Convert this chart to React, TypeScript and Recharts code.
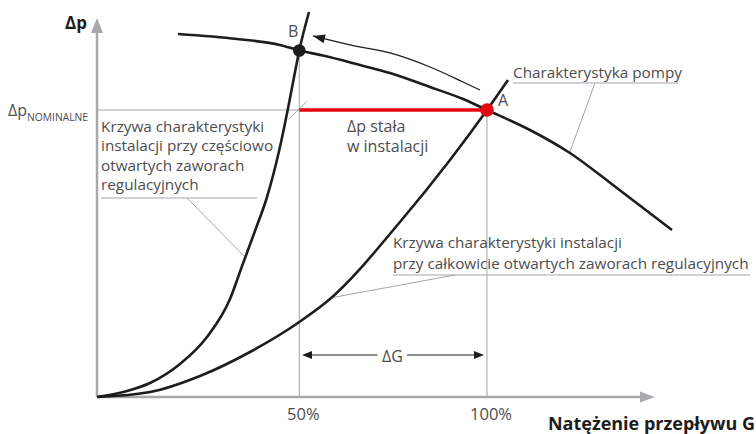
import {
  ComposedChart,
  Line,
  Scatter,
  XAxis,
  YAxis,
  ReferenceLine,
  ReferenceDot,
} from "recharts";

// g = flow G in % of nominal, dp = pressure difference (relative units)
const pumpCurve = [
  { g: 17.69, dp: 93.8 },
  { g: 33.4, dp: 92.51 },
  { g: 44.86, dp: 90.96 },
  { g: 50, dp: 89.54 },
  { g: 56.31, dp: 88.24 },
  { g: 66.17, dp: 85.79 },
  { g: 74.16, dp: 83.72 },
  { g: 84.82, dp: 80.1 },
  { g: 93.61, dp: 77.0 },
  { g: 100, dp: 74.16 },
  { g: 111.45, dp: 68.99 },
  { g: 122.1, dp: 63.05 },
  { g: 133.56, dp: 54.78 },
  { g: 149.28, dp: 43.15 },
];

const partialSystemCurve = [
  { g: -3.89, dp: 0 },
  { g: 4.1, dp: 1.55 },
  { g: 10.23, dp: 3.62 },
  { g: 18.22, dp: 8.53 },
  { g: 25.41, dp: 15.5 },
  { g: 31.54, dp: 25.32 },
  { g: 34.66, dp: 33.59 },
  { g: 38.19, dp: 42.89 },
  { g: 41.32, dp: 51.42 },
  { g: 44.67, dp: 63.82 },
  { g: 46.91, dp: 74.16 },
  { g: 48.45, dp: 81.91 },
  { g: 50, dp: 89.54 },
  { g: 52.58, dp: 99.48 },
];

const fullSystemCurve = [
  { g: -3.89, dp: 0 },
  { g: 10.23, dp: 1.29 },
  { g: 23.55, dp: 5.43 },
  { g: 36.87, dp: 11.63 },
  { g: 50, dp: 19.38 },
  { g: 58.18, dp: 25.32 },
  { g: 76.82, dp: 45.22 },
  { g: 90.14, dp: 61.24 },
  { g: 100, dp: 74.16 },
  { g: 105.59, dp: 81.91 },
];

const pointA = [{ g: 100, dp: 74.16 }];
const pointB = [{ g: 50, dp: 89.54 }];

// arrow showing the shift of the working point from A to B
const shiftArrow = [
  { g: 98.13, dp: 79.33 },
  { g: 93.61, dp: 81.4 },
  { g: 84.82, dp: 85.27 },
  { g: 74.16, dp: 88.89 },
  { g: 63.51, dp: 90.96 },
  { g: 53.65, dp: 93.28 },
];

const flowTicks = [50, 100];
const flowTickLabels = ["50%", "100%"];

const G0 = -3.89; // origin of the axes
const DP_NOMINAL = 74.16;

const INK = "#1d1d1b";
const RED = "#e30613";
const AXIS = "#a7a9ac";
const THIN = "#a3a5a8";
const TEXT = "#4d4d4f";
const FONT = "'Open Sans', sans-serif";

const seg = (
  key: string,
  x1: number,
  y1: number,
  x2: number,
  y2: number,
  stroke = THIN,
  width = 1
) => (
  <ReferenceLine
    key={key}
    segment={[
      { x: x1, y: y1 },
      { x: x2, y: y2 },
    ]}
    stroke={stroke}
    strokeWidth={width}
    ifOverflow="visible"
  />
);

const arrowHead = (
  key: string,
  x: number,
  y: number,
  angle: number,
  len: number,
  half: number,
  fill: string
) => (
  <ReferenceDot
    key={key}
    x={x}
    y={y}
    r={0}
    ifOverflow="visible"
    shape={(p: any) => (
      <polygon
        points={`0,0 ${-len},${-half} ${-len},${half}`}
        transform={`translate(${p.cx},${p.cy}) rotate(${angle})`}
        fill={fill}
      />
    )}
  />
);

type NoteOpts = {
  size?: number;
  bold?: boolean;
  fill?: string;
  anchor?: "start" | "middle" | "end";
  lh?: number;
  dx?: number;
};

const note = (key: string, x: number, y: number, lines: string[], o: NoteOpts = {}) => (
  <ReferenceDot
    key={key}
    x={x}
    y={y}
    r={0}
    ifOverflow="visible"
    shape={(p: any) => (
      <text
        x={p.cx + (o.dx ?? 0)}
        y={p.cy}
        fill={o.fill ?? TEXT}
        fontSize={o.size ?? 15.3}
        fontWeight={o.bold ? 700 : 400}
        fontFamily={FONT}
        textAnchor={o.anchor ?? "start"}
      >
        {lines.map((l, i) => (
          <tspan key={i} x={p.cx + (o.dx ?? 0)} dy={i === 0 ? 0 : o.lh ?? 19.5}>
            {l}
          </tspan>
        ))}
      </text>
    )}
  />
);

const App = () => {
  return (
    <div style={{ width: 756, height: 434 }}>
      <style>{"body{margin:0}"}</style>
      <ComposedChart width={756} height={434} margin={{ top: 0, right: 0, bottom: 0, left: 0 }}>
        <XAxis type="number" dataKey="g" domain={[-29.73, 171.66]} allowDataOverflow hide />
        <YAxis type="number" dataKey="dp" domain={[-9.56, 102.58]} allowDataOverflow hide />

        {/* guide lines */}
        {seg("nom", G0, DP_NOMINAL, pointB[0].g, DP_NOMINAL)}
        {seg("v50", pointB[0].g, 0, pointB[0].g, pointB[0].dp)}
        {seg("v100", pointA[0].g, 0, pointA[0].g, pointA[0].dp)}
        {seg("tick", 47.53, 72.09, 51.97, 76.3)}

        {/* leader lines */}
        {seg("ul1", -2.82, 51.42, 38.73, 51.42)}
        {seg("ld1", 20.09, 51.42, 35.54, 36.18)}
        {seg("ul2", 106.93, 81.14, 150.87, 81.14)}
        {seg("ld2", 128.77, 81.14, 122.1, 63.31)}
        {seg("ul3", 74.96, 31.52, 170.06, 31.52)}
        {seg("ld3", 91.48, 31.52, 58.18, 25.58)}

        {/* axes */}
        {seg("yAxis", G0, 0, G0, 94.06, AXIS, 2.5)}
        {seg("xAxis", G0, 0, 141.02, 0, AXIS, 2.5)}
        {arrowHead("yArrow", G0, 97.93, -90, 15, 6, AXIS)}
        {arrowHead("xArrow", 144.75, 0, 0, 15, 5.5, AXIS)}

        {/* constant dp between B and A */}
        {seg("red", pointB[0].g, DP_NOMINAL, pointA[0].g, DP_NOMINAL, RED, 3.5)}

        {/* ΔG dimension */}
        {seg("dgL", 51.5, 10.85, 70.8, 10.85, INK, 1.2)}
        {seg("dgR", 78.7, 10.85, 98.5, 10.85, INK, 1.2)}
        {arrowHead("dgLa", 50.72, 10.85, 180, 10, 4, INK)}
        {arrowHead("dgRa", 99.2, 10.85, 0, 10, 4, INK)}

        <Line
          data={pumpCurve}
          dataKey="dp"
          type="monotone"
          stroke={INK}
          strokeWidth={2.6}
          dot={false}
          activeDot={false}
          isAnimationActive={false}
        />
        <Line
          data={partialSystemCurve}
          dataKey="dp"
          type="monotone"
          stroke={INK}
          strokeWidth={2.6}
          dot={false}
          activeDot={false}
          isAnimationActive={false}
        />
        <Line
          data={fullSystemCurve}
          dataKey="dp"
          type="monotone"
          stroke={INK}
          strokeWidth={2.6}
          dot={false}
          activeDot={false}
          isAnimationActive={false}
        />
        <Line
          data={shiftArrow}
          dataKey="dp"
          type="monotone"
          stroke={INK}
          strokeWidth={1.3}
          dot={false}
          activeDot={false}
          isAnimationActive={false}
        />
        {arrowHead("shiftHead", 53.65, 93.28, 193.7, 12, 4.5, INK)}

        <Scatter
          data={pointB}
          dataKey="dp"
          isAnimationActive={false}
          shape={(p: any) => <circle cx={p.cx} cy={p.cy} r={6.3} fill={INK} />}
        />
        <Scatter
          data={pointA}
          dataKey="dp"
          isAnimationActive={false}
          shape={(p: any) => <circle cx={p.cx} cy={p.cy} r={6.8} fill={RED} />}
        />

        {/* texts */}
        {note("dpTitle", -6.55, 95.09, ["Δp"], { size: 17, bold: true, fill: INK, anchor: "end" })}
        {note("B", 46.99, 93.02, ["B"], { size: 16 })}
        {note("A", 102.93, 75.19, ["A"], { size: 16 })}
        <ReferenceDot
          x={-27.6}
          y={72.61}
          r={0}
          ifOverflow="visible"
          shape={(p: any) => (
            <text x={p.cx} y={p.cy} fill={TEXT} fontSize={16} fontFamily={FONT}>
              Δp
              <tspan fontSize={10.3} dy={5}>
                NOMINALNE
              </tspan>
            </text>
          )}
        />
        {note("partialLbl", -2.82, 68.48, [
          "Krzywa charakterystyki",
          "instalacji przy częściowo",
          "otwartych zaworach",
          "regulacyjnych",
        ])}
        {note("constLbl", 62.71, 68.48, ["Δp stała", "w instalacji"], { size: 16, lh: 20.5 })}
        {note("pumpLbl", 106.93, 82.43, ["Charakterystyka pompy"])}
        {note(
          "fullLbl",
          74.96,
          38.5,
          ["Krzywa charakterystyki instalacji", "przy całkowicie otwartych zaworach regulacyjnych"],
          { lh: 21 }
        )}
        {note("dG", 74.83, 9.04, ["ΔG"], { anchor: "middle", size: 16 })}
        {flowTicks.map((t, i) =>
          note(`tick${t}`, t, -5.94, [flowTickLabels[i]], { anchor: "middle", dx: 4, size: 16.5 })
        )}
        {note("xTitle", 171.39, -8.53, ["Natężenie przepływu G"], {
          size: 18,
          bold: true,
          fill: INK,
          anchor: "end",
        })}
      </ComposedChart>
    </div>
  );
};

export default App;
